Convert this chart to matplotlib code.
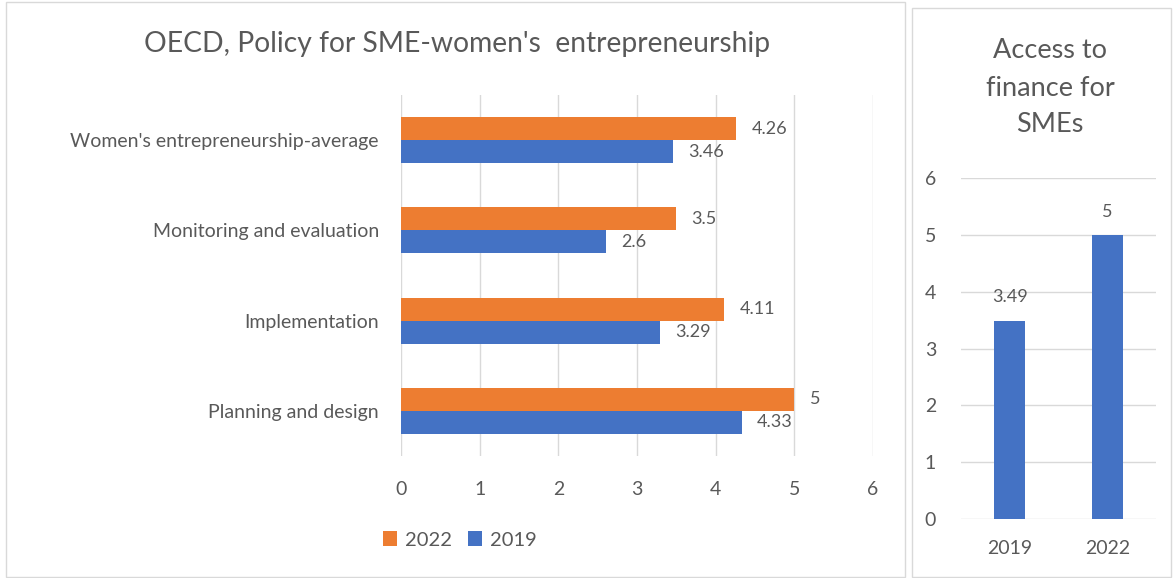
import matplotlib.pyplot as plt
from matplotlib.patches import Rectangle
import numpy as np

plt.rcParams['font.family'] = ['Lato', 'DejaVu Sans']

# data
categories = ['Planning and design', 'Implementation', 'Monitoring and evaluation',
              "Women's entrepreneurship-average"]
vals_2022 = [5, 4.11, 3.5, 4.26]
vals_2019 = [4.33, 3.29, 2.6, 3.46]
lbl_2022 = ['5', '4.11', '3.5', '4.26']
lbl_2019 = ['4.33', '3.29', '2.6', '3.46']

fin_years = ['2019', '2022']
fin_vals = [3.49, 5]
fin_lbls = ['3.49', '5']

orange = '#ED7D31'
blue = '#4472C4'
txt = '#595959'
grid = '#D9D9D9'

fig = plt.figure(figsize=(11.74, 5.78), dpi=100)

# panel borders
fig.patches.append(Rectangle((6/1174, 1/578), 899/1174, 575/578, transform=fig.transFigure,
                             fill=False, edgecolor=grid, lw=1))
fig.patches.append(Rectangle((912/1174, 1/578), 259/1174, 569/578, transform=fig.transFigure,
                             fill=False, edgecolor=grid, lw=1))

# left chart
ax = fig.add_axes([401/1174, 1-456/578, 472/1174, 361/578])
y = np.arange(len(categories))
h = 0.255
b1 = ax.barh(y + h/2, vals_2022, h, color=orange, label='2022', zorder=3)
b2 = ax.barh(y - h/2, vals_2019, h, color=blue, label='2019', zorder=3)
for bar, l in zip(b1, lbl_2022):
    ax.annotate(l, (bar.get_width(), bar.get_y() + bar.get_height()/2), xytext=(11, 0),
                textcoords='offset points', va='center', ha='left', fontsize=13, color=txt)
for bar, l in zip(b2, lbl_2019):
    ax.annotate(l, (bar.get_width(), bar.get_y() + bar.get_height()/2), xytext=(11, 0),
                textcoords='offset points', va='center', ha='left', fontsize=13, color=txt)
ax.set_xlim(0, 6)
ax.set_ylim(-0.5, 3.5)
ax.set_xticks(range(7))
ax.set_yticks(y)
ax.set_yticklabels(categories, fontsize=14.5)
ax.grid(axis='x', color=grid, lw=1, zorder=0)
for s in ax.spines.values():
    s.set_visible(False)
ax.tick_params(length=0, labelsize=14, colors=txt)
ax.tick_params(axis='y', pad=16)
ax.tick_params(axis='x', pad=18)
fig.text(457/1174, 1-44/578, "OECD, Policy for SME-women's  entrepreneurship", ha='center',
         va='center', fontsize=20.3, color=txt)
fig.legend(handles=[b1, b2], loc='center', bbox_to_anchor=(460/1174, 1-540/578), ncol=2,
           frameon=False, fontsize=14.5, labelcolor=txt, handlelength=0.7, handleheight=0.7,
           handletextpad=0.4, columnspacing=0.8)

# right chart
ax2 = fig.add_axes([961/1174, 1-519/578, 195/1174, 341/578])
x = np.arange(len(fin_years))
bars = ax2.bar(x, fin_vals, 0.32, color=blue, zorder=3)
for bar, l in zip(bars, fin_lbls):
    ax2.annotate(l, (bar.get_x() + bar.get_width()/2, bar.get_height()), xytext=(0, 11),
                 textcoords='offset points', ha='center', va='bottom', fontsize=13, color=txt)
ax2.set_xlim(-0.5, 1.5)
ax2.set_ylim(0, 6)
ax2.set_yticks(range(7))
ax2.set_xticks(x)
ax2.set_xticklabels(fin_years)
ax2.grid(axis='y', color=grid, lw=1, zorder=0)
for s in ax2.spines.values():
    s.set_visible(False)
ax2.tick_params(length=0, labelsize=14, colors=txt)
ax2.tick_params(axis='y', pad=18)
ax2.tick_params(axis='x', pad=15)
fig.text(1050/1174, 1-88/578, 'Access to\nfinance for\nSMEs', ha='center', va='center',
         fontsize=19.5, color=txt, linespacing=1.6)

fig.savefig('out.png', dpi=100)
